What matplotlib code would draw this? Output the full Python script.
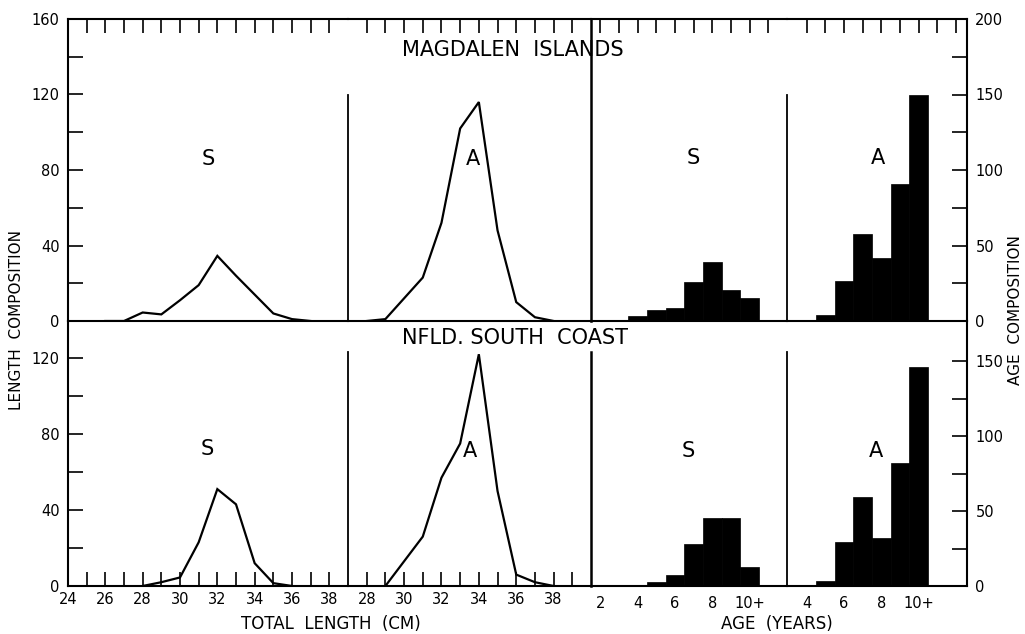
import matplotlib
matplotlib.use("Agg")
import matplotlib.pyplot as plt
from matplotlib.ticker import FixedLocator, NullLocator

# ---------------- data ----------------
# Length composition (total length, cm)
mag_len_S_x = [26, 27, 28, 29, 30, 31, 32, 33, 34, 35, 36, 37]
mag_len_S_y = [0, 0, 4.5, 3.5, 11, 19, 34.5, 24, 14, 4, 1, 0]
mag_len_A_x = [28, 29, 30, 31, 32, 33, 34, 35, 36, 37, 38]
mag_len_A_y = [0, 1, 12, 23, 52, 102, 116, 48, 10, 2, 0]

nfl_len_S_x = [28, 29, 30, 31, 32, 33, 34, 35, 36]
nfl_len_S_y = [0, 2, 4.5, 23, 51, 43, 12, 1.5, 0]
nfl_len_A_x = [29, 30, 31, 32, 33, 34, 35, 36, 37, 38]
nfl_len_A_y = [0, 13, 26, 57, 75, 122, 50, 6, 2, 0]

# Age composition (years; 10 = 10+)
mag_age_S_x = [4, 5, 6, 7, 8, 9, 10]
mag_age_S_y = [3, 7.5, 8.5, 26, 39, 20.5, 15.5]
mag_age_A_x = [5, 6, 7, 8, 9, 10]
mag_age_A_y = [4, 26.5, 57.5, 41.5, 90.5, 150]

nfl_age_S_x = [3, 5, 6, 7, 8, 9, 10]
nfl_age_S_y = [0.7, 3, 7.5, 28, 45.5, 45.5, 13]
nfl_age_A_x = [5, 6, 7, 8, 9, 10]
nfl_age_A_y = [3.3, 29.5, 59.5, 32, 82, 146]

len_S_labels = ["24", "26", "28", "30", "32", "34", "36", "38"]
len_A_labels = ["28", "30", "32", "34", "36", "38"]
age_S_labels = ["2", "4", "6", "8", "10+"]
age_A_labels = ["4", "6", "8", "10+"]

# ---------------- layout ----------------
W, H = 1025, 634
fig = plt.figure(figsize=(W / 100, H / 100), dpi=100)
plt.rcParams['font.family'] = ['DejaVu Sans']

LW = 1.6
TICKFS = 10.5

def rect(x0, x1, y0, y1):
    return [x0 / W, 1 - y1 / H, (x1 - x0) / W, (y1 - y0) / H]

xs = [68, 348, 591, 787, 967]
rows = [(19, 321), (321, 586)]
xlims = [(24, 39), (27, 40), (1.5, 12), (2.95, 12.6)]
top_ticks = [list(range(25, 39)), list(range(28, 40)), list(range(2, 12)), list(range(4, 13))]

len_ylim = [(0, 160), (0, 139.5)]
age_ylim = [(0, 200), (0, 176.7)]

len_data = [[(mag_len_S_x, mag_len_S_y), (mag_len_A_x, mag_len_A_y)],
            [(nfl_len_S_x, nfl_len_S_y), (nfl_len_A_x, nfl_len_A_y)]]
age_data = [[(mag_age_S_x, mag_age_S_y), (mag_age_A_x, mag_age_A_y)],
            [(nfl_age_S_x, nfl_age_S_y), (nfl_age_A_x, nfl_age_A_y)]]

sep_frac = [0.75, 0.883]

for r, (y0, y1) in enumerate(rows):
    axes = []
    for c in range(4):
        ax = fig.add_axes(rect(xs[c], xs[c + 1], y0, y1))
        ax.set_xlim(*xlims[c])
        ax.set_ylim(*(len_ylim[r] if c < 2 else age_ylim[r]))
        ax.patch.set_alpha(0)
        for s in ax.spines.values():
            s.set_visible(False)
            s.set_linewidth(1.5)
        ax.spines['bottom'].set_visible(True)
        if r == 0:
            ax.spines['top'].set_visible(True)
        ax.tick_params(which='both', direction='in', length=10, width=1.2,
                       labelsize=TICKFS, colors='black')
        ax.yaxis.set_major_locator(NullLocator())
        ax.yaxis.set_minor_locator(NullLocator())
        ax.xaxis.set_minor_locator(NullLocator())
        axes.append(ax)

    # x ticks
    for c, ax in enumerate(axes):
        if r == 0:
            ax.set_xticks(top_ticks[c])
            ax.set_xticklabels([])
            ax.tick_params(axis='x', top=True, bottom=False, labeltop=False, labelbottom=False)
        else:
            if c == 0:
                ax.set_xticks(list(range(24, 39, 2)))
                ax.set_xticklabels(len_S_labels)
                ax.xaxis.set_minor_locator(FixedLocator(list(range(25, 39, 2))))
                ax.tick_params(axis='x', which='both', top=False, bottom=True, pad=4)
            elif c == 1:
                ax.set_xticks(list(range(28, 39, 2)))
                ax.set_xticklabels(len_A_labels)
                ax.xaxis.set_minor_locator(FixedLocator(list(range(29, 40, 2))))
                ax.tick_params(axis='x', which='both', top=False, bottom=True, pad=4)
            elif c == 2:
                ax.set_xticks([2, 4, 6, 8, 10])
                ax.set_xticklabels(age_S_labels)
                ax.tick_params(axis='x', top=False, bottom=True, length=0, pad=7)
            else:
                ax.set_xticks([4, 6, 8, 10])
                ax.set_xticklabels(age_A_labels)
                ax.tick_params(axis='x', top=False, bottom=True, length=0, pad=7)

    # left y axis
    axL = axes[0]
    axL.spines['left'].set_visible(True)
    ymaj = [0, 40, 80, 120, 160] if r == 0 else [0, 40, 80, 120]
    ymin = [20, 60, 100, 140] if r == 0 else [20, 60, 100]
    axL.yaxis.set_major_locator(FixedLocator(ymaj))
    axL.yaxis.set_minor_locator(FixedLocator(ymin))
    axL.set_yticklabels([str(v) for v in ymaj])
    axL.tick_params(axis='y', which='both', left=True, right=False, length=11, pad=6)

    # right y axis
    axR = axes[3]
    axR.spines['right'].set_visible(True)
    axR.yaxis.tick_right()
    rmaj = [0, 50, 100, 150, 200] if r == 0 else [0, 50, 100, 150]
    rmin = [25, 75, 125, 175] if r == 0 else [25, 75, 125]
    axR.yaxis.set_major_locator(FixedLocator(rmaj))
    axR.yaxis.set_minor_locator(FixedLocator(rmin))
    axR.set_yticklabels([str(v) for v in rmaj])
    axR.tick_params(axis='y', which='both', left=False, right=True, length=11, pad=6)

    # data
    for c in range(2):
        xd, yd = len_data[r][c]
        axes[c].plot(xd, yd, color='black', lw=LW, solid_joinstyle='miter')
    for c in range(2):
        xd, yd = age_data[r][c]
        axes[c + 2].bar(xd, yd, width=1.0, color='black', edgecolor='black', linewidth=0.5)

    # separators
    axes[0].axvline(xlims[0][1], ymin=0, ymax=sep_frac[r], color='black', lw=1.3, clip_on=False)
    axes[2].axvline(xlims[2][0], ymin=0, ymax=(1.0 if r == 0 else sep_frac[r]), color='black', lw=1.8, clip_on=False)
    axes[2].axvline(xlims[2][1], ymin=0, ymax=sep_frac[r], color='black', lw=1.3, clip_on=False)

    # panel letters
    if r == 0:
        axes[0].text(31.5, 86, "S", ha='center', va='center', fontsize=15)
        axes[1].text(33.7, 86, "A", ha='center', va='center', fontsize=15)
        axes[2].text(7.0, 108, "S", ha='center', va='center', fontsize=15)
        axes[3].text(7.8, 108, "A", ha='center', va='center', fontsize=15)
    else:
        axes[0].text(31.45, 72, "S", ha='center', va='center', fontsize=15)
        axes[1].text(33.5, 71, "A", ha='center', va='center', fontsize=15)
        axes[2].text(6.7, 90, "S", ha='center', va='center', fontsize=15)
        axes[3].text(7.7, 90, "A", ha='center', va='center', fontsize=15)

# titles and axis labels
fig.text(513 / W, 1 - 50 / H, "MAGDALEN  ISLANDS", ha='center', va='center', fontsize=15)
fig.text(515 / W, 1 - 338 / H, "NFLD. SOUTH  COAST", ha='center', va='center', fontsize=15)
fig.text(17 / W, 1 - 320 / H, "LENGTH  COMPOSITION", rotation=90, ha='center', va='center', fontsize=11)
fig.text(1016 / W, 1 - 310 / H, "AGE  COMPOSITION", rotation=90, ha='center', va='center', fontsize=11)
fig.text(331 / W, 1 - 624 / H, "TOTAL  LENGTH  (CM)", ha='center', va='center', fontsize=12)
fig.text(777 / W, 1 - 624 / H, "AGE  (YEARS)", ha='center', va='center', fontsize=12)

fig.savefig("out.png", dpi=100, facecolor='white')
